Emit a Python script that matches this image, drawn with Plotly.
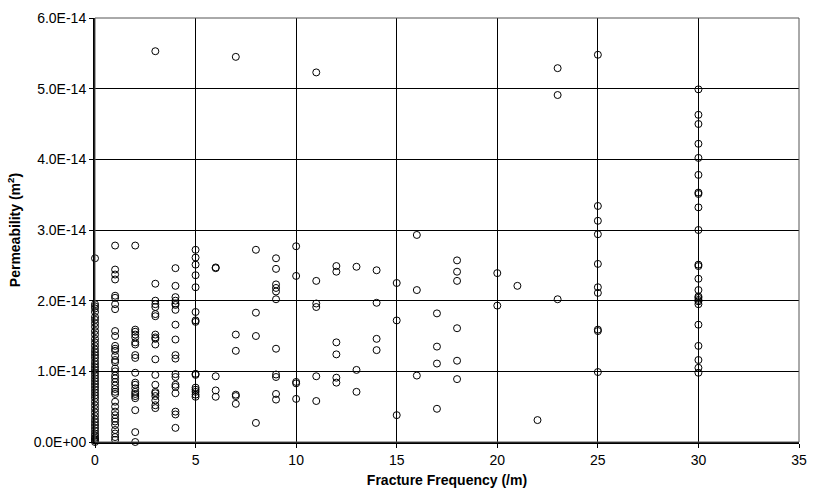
import plotly.graph_objects as go

SCALE = 1e-14  # values below are in units of 1e-14 m^2

perm_f0 = [2.60, 1.95, 1.92, 1.89, 1.84, 1.77, 1.73, 1.68, 1.63, 1.57, 1.52, 1.46,
           1.41, 1.36, 1.31, 1.27, 1.23, 1.19, 1.14, 1.10, 1.06, 1.02, 0.98, 0.94,
           0.90, 0.86, 0.82, 0.78, 0.74, 0.70, 0.66, 0.62, 0.57, 0.52, 0.47, 0.42,
           0.37, 0.32, 0.28, 0.24, 0.20, 0.16, 0.12, 0.09, 0.06, 0.04, 0.02, 0.0]
perm_f1 = [2.78, 2.44, 2.37, 2.30, 2.07, 2.04, 1.95, 1.88, 1.57, 1.50, 1.36, 1.32,
           1.29, 1.22, 1.16, 1.13, 1.04, 1.00, 0.94, 0.90, 0.85, 0.80, 0.75, 0.71,
           0.68, 0.57, 0.50, 0.43, 0.38, 0.33, 0.29, 0.24, 0.17, 0.12, 0.07, 0.03]
perm_f2 = [2.78, 1.59, 1.56, 1.52, 1.48, 1.41, 1.38, 1.23, 1.19, 0.98, 0.84, 0.81,
           0.76, 0.71, 0.68, 0.65, 0.62, 0.45, 0.14, 0.0]
perm_f3 = [5.53, 2.24, 2.00, 1.95, 1.91, 1.81, 1.78, 1.52, 1.48, 1.46, 1.38, 1.17,
           0.95, 0.81, 0.71, 0.69, 0.65, 0.59, 0.52, 0.48]
perm_f4 = [2.46, 2.21, 2.05, 2.00, 1.96, 1.94, 1.87, 1.66, 1.45, 1.23, 1.18, 0.96,
           0.92, 0.81, 0.78, 0.69, 0.43, 0.39, 0.20]
perm_f5 = [2.72, 2.61, 2.51, 2.36, 2.19, 1.84, 1.72, 1.70, 0.965, 0.95, 0.77, 0.74,
           0.71, 0.67, 0.64]
perm_f6 = [2.47, 2.46, 0.93, 0.73, 0.64]
perm_f7 = [5.45, 1.52, 1.29, 0.67, 0.65, 0.54]
perm_f8 = [2.72, 1.83, 1.50, 0.27]
perm_f9 = [2.60, 2.45, 2.23, 2.18, 2.13, 2.02, 1.32, 0.955, 0.92, 0.68, 0.60]
perm_f10 = [2.77, 2.35, 0.85, 0.83, 0.61]
perm_f11 = [5.23, 2.28, 1.96, 1.91, 0.93, 0.58]
perm_f12 = [2.49, 2.41, 1.41, 1.24, 0.91, 0.84]
perm_f13 = [2.48, 1.02, 0.71]
perm_f14 = [2.43, 1.97, 1.46, 1.30]
perm_f15 = [2.25, 1.72, 0.38]
perm_f16 = [2.93, 2.15, 0.94]
perm_f17 = [1.82, 1.35, 1.11, 0.47]
perm_f18 = [2.57, 2.41, 2.28, 1.61, 1.15, 0.89]
perm_f20 = [2.39, 1.93]
perm_f21 = [2.21]
perm_f22 = [0.31]
perm_f23 = [5.29, 4.91, 2.02]
perm_f25 = [5.48, 3.34, 3.13, 2.94, 2.52, 2.19, 2.11, 1.59, 1.57, 0.99]
perm_f30 = [4.99, 4.63, 4.50, 4.22, 4.02, 3.78, 3.53, 3.51, 3.32, 3.00, 2.51, 2.49,
            2.31, 2.15, 2.06, 2.04, 2.01, 1.99, 1.95, 1.66, 1.36, 1.16, 1.05, 0.98]

columns = {0: perm_f0, 1: perm_f1, 2: perm_f2, 3: perm_f3, 4: perm_f4, 5: perm_f5,
           6: perm_f6, 7: perm_f7, 8: perm_f8, 9: perm_f9, 10: perm_f10, 11: perm_f11,
           12: perm_f12, 13: perm_f13, 14: perm_f14, 15: perm_f15, 16: perm_f16,
           17: perm_f17, 18: perm_f18, 20: perm_f20, 21: perm_f21, 22: perm_f22,
           23: perm_f23, 25: perm_f25, 30: perm_f30}

x_ticks = [0, 5, 10, 15, 20, 25, 30, 35]
y_tickvals = [0, 1e-14, 2e-14, 3e-14, 4e-14, 5e-14, 6e-14]
y_ticktext = ["0.0E+00", "1.0E-14", "2.0E-14", "3.0E-14", "4.0E-14", "5.0E-14", "6.0E-14"]

xs, ys = [], []
for f, vals in columns.items():
    for v in vals:
        xs.append(f)
        ys.append(v * SCALE)

font = "Liberation Sans, Arial, sans-serif"

fig = go.Figure()
fig.add_trace(go.Scatter(
    x=xs, y=ys, mode="markers",
    marker=dict(symbol="circle-open", size=7, color="black", line=dict(width=1, color="black")),
    showlegend=False, cliponaxis=False,
))

fig.update_layout(
    width=817, height=496,
    margin=dict(l=95, r=10, t=15, b=54),
    paper_bgcolor="white", plot_bgcolor="white",
    font=dict(family=font, size=14, color="black"),
    xaxis=dict(
        range=[0, 35], tickvals=x_ticks, ticks="outside", ticklen=4, tickcolor="black",
        showgrid=True, gridcolor="black", gridwidth=1, zeroline=False,
        showline=True, linecolor="black", linewidth=2,
        title=dict(text="<b>Fracture Frequency (/m)</b>", font=dict(size=14), standoff=8),
        tickfont=dict(size=14),
    ),
    yaxis=dict(
        range=[0, 6e-14], tickvals=y_tickvals, ticktext=y_ticktext, ticks="outside",
        ticklen=4, tickcolor="black",
        showgrid=True, gridcolor="black", gridwidth=1, zeroline=False,
        showline=True, linecolor="black", linewidth=2,
        title=dict(text="<b>Permeability (m<sup>2</sup>)</b>", font=dict(size=14), standoff=10),
        tickfont=dict(size=14),
    ),
)
fig.add_shape(type="rect", xref="paper", yref="paper", x0=0, y0=0, x1=1, y1=1,
              line=dict(color="#555555", width=1), layer="above")

fig.write_html("out.html")
